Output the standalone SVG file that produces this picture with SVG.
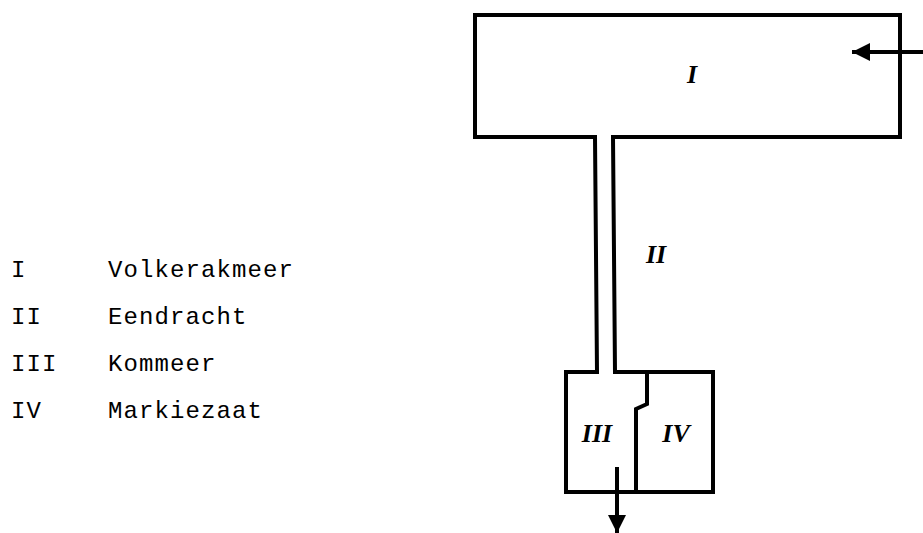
<svg xmlns="http://www.w3.org/2000/svg" width="923" height="533" viewBox="0 0 923 533">
<style>
.wall{fill:none;stroke:#000;stroke-width:4;stroke-linecap:square;stroke-linejoin:miter}
.lbl{font-family:"Liberation Serif",serif;font-style:italic;font-weight:bold;font-size:26px;fill:#000;text-anchor:middle}
.leg{font-family:"Liberation Mono","Courier New",monospace;font-size:24px;letter-spacing:1.1px;fill:#000}
.flow{fill:none;stroke:#000;stroke-width:4}
</style>
<defs>
<marker id="ah" viewBox="0 0 10 10" refX="10" refY="5" markerWidth="6" markerHeight="4.5" markerUnits="strokeWidth" orient="auto">
<path d="M0,0 L10,5 L0,10 Z" fill="#000"/>
</marker>
</defs>
<rect width="923" height="533" fill="#fff"/>
<g id="node-I">
<path class="wall" d="M595,137 L475,137 L475,15 L900,15 L900,137 L613,137"/>
<text class="lbl" x="692" y="83">I</text>
</g>
<g id="node-II">
<path class="wall" d="M595,137 L597,372 M613,137 L615,372"/>
<text class="lbl" x="656" y="263">II</text>
</g>
<g id="node-III">
<path class="wall" d="M597,372 L566,372 L566,492 L636,492"/>
<text class="lbl" x="597" y="442">III</text>
</g>
<g id="node-IV">
<path class="wall" d="M615,372 L713,372 L713,492 L636,492 M647,372 L647,404 L636,409 L636,492"/>
<text class="lbl" x="676" y="442">IV</text>
</g>
<g id="connectors">
<path class="flow" d="M923,52 L852,52" marker-end="url(#ah)"/>
<path class="flow" d="M617,467 L617,533" marker-end="url(#ah)"/>
</g>
<g id="legend">
<text class="leg" x="11" y="277">I</text><text class="leg" x="108" y="277">Volkerakmeer</text>
<text class="leg" x="11" y="324">II</text><text class="leg" x="108" y="324">Eendracht</text>
<text class="leg" x="11" y="371">III</text><text class="leg" x="108" y="371">Kommeer</text>
<text class="leg" x="11" y="418">IV</text><text class="leg" x="108" y="418">Markiezaat</text>
</g>
</svg>
